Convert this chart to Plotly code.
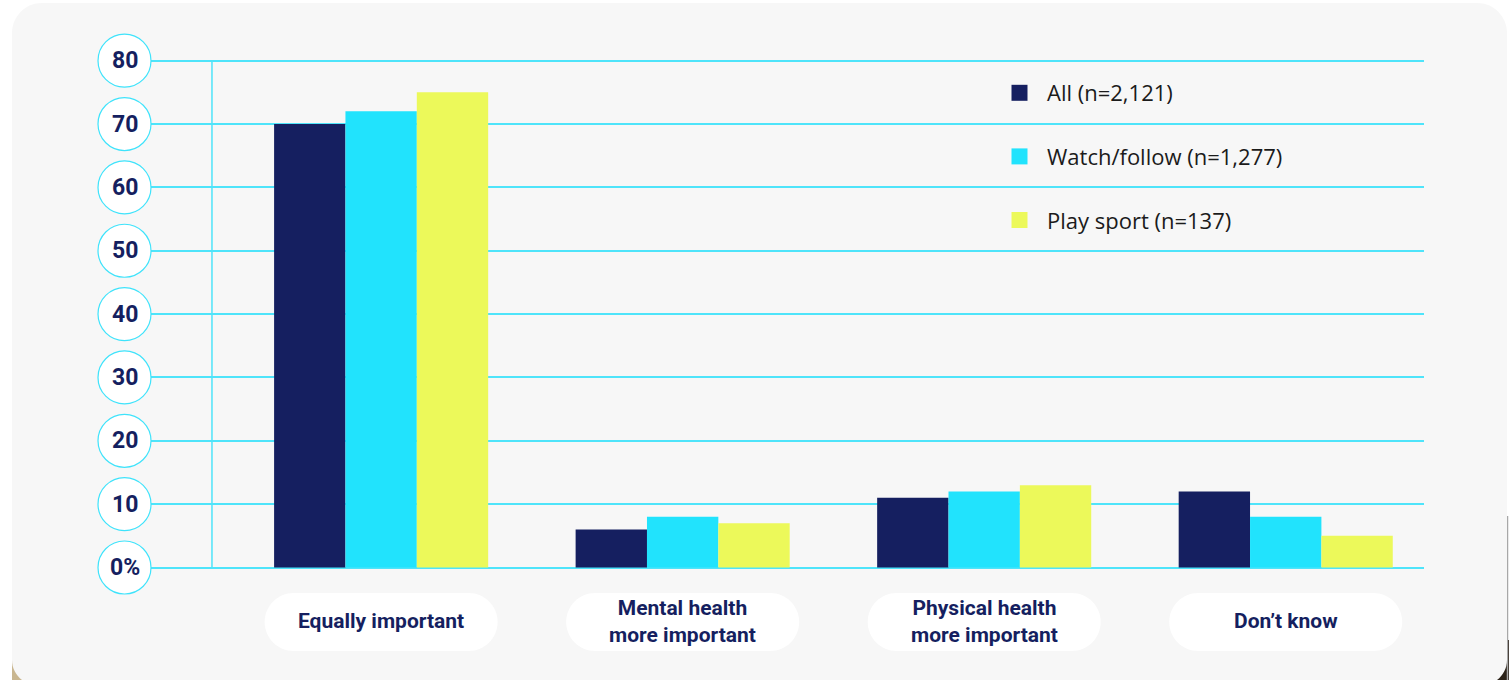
import plotly.graph_objects as go

# Survey responses (% of respondents)
categories = ["Equally important", "Mental health more important",
              "Physical health more important", "Don’t know"]
category_labels = ["Equally important", "Mental health<br>more important",
                   "Physical health<br>more important", "Don’t know"]
series_names = ["All (n=2,121)", "Watch/follow (n=1,277)", "Play sport (n=137)"]
all_values = [70, 6, 11, 12]
watch_values = [72, 8, 12, 8]
play_values = [75, 7, 13, 5]
tick_values = [0, 10, 20, 30, 40, 50, 60, 70, 80]
tick_labels = ["0%", "10", "20", "30", "40", "50", "60", "70", "80"]

NAVY = "#151f60"
CYAN = "#21e3fd"
YELLOW = "#ecf95a"
GRID = "#4fe4fa"
CARD = "#f7f7f7"

W, H = 1509, 680

fig = go.Figure()

for name, vals, col in zip(series_names, [all_values, watch_values, play_values],
                           [NAVY, CYAN, YELLOW]):
    fig.add_trace(go.Bar(x=categories, y=vals, name=name, marker_color=col,
                         marker_line_width=0, showlegend=False, hoverinfo="skip"))

# legend entries with larger square swatches
for i, (name, col) in enumerate(zip(series_names, [NAVY, CYAN, YELLOW])):
    fig.add_trace(go.Scatter(x=[None], y=[None], mode="markers", name=name,
                             legendgroup=f"g{i}",
                             marker=dict(symbol="square", size=16, color=col,
                                         line_width=0)))


def px_x(p):
    return p / W


def px_y(p):
    return (H - p) / H


shapes = []

# backdrop corners and card
shapes.append(dict(type="rect", xref="paper", yref="paper", x0=px_x(12), x1=px_x(45),
                   y0=px_y(680), y1=px_y(640), fillcolor="#c9b690", line_width=0,
                   layer="below"))
shapes.append(dict(type="rect", xref="paper", yref="paper", x0=px_x(1480), x1=px_x(1509),
                   y0=px_y(680), y1=px_y(640), fillcolor="#2b2218", line_width=0,
                   layer="below"))
shapes.append(dict(type="line", xref="paper", yref="paper", x0=px_x(1507.5), x1=px_x(1507.5),
                   y0=px_y(516), y1=px_y(680), line=dict(color="#a8a8a8", width=1.5),
                   layer="below"))


def card_path(x0, y0, x1, y1, rt, rb):
    k = 0.5523
    X0, X1 = px_x(x0), px_x(x1)
    def Y(p):
        return px_y(p)
    def dx(r):
        return r / W
    def dy(r):
        return r / H
    return (f"M {X0+dx(rt)},{Y(y0)} L {X1-dx(rt)},{Y(y0)} "
            f"C {X1-dx(rt)+dx(k*rt)},{Y(y0)} {X1},{Y(y0)-dy(rt)+dy(k*rt)} {X1},{Y(y0)-dy(rt)} "
            f"L {X1},{Y(y1)+dy(rb)} "
            f"C {X1},{Y(y1)+dy(rb)-dy(k*rb)} {X1-dx(rb)+dx(k*rb)},{Y(y1)} {X1-dx(rb)},{Y(y1)} "
            f"L {X0+dx(rb)},{Y(y1)} "
            f"C {X0+dx(rb)-dx(k*rb)},{Y(y1)} {X0},{Y(y1)+dy(rb)-dy(k*rb)} {X0},{Y(y1)+dy(rb)} "
            f"L {X0},{Y(y0)-dy(rt)} "
            f"C {X0},{Y(y0)-dy(rt)+dy(k*rt)} {X0+dx(rt)-dx(k*rt)},{Y(y0)} {X0+dx(rt)},{Y(y0)} Z")


shapes.append(dict(type="path", xref="paper", yref="paper",
                   path=card_path(12, 3, 1507, 685, 30, 25),
                   fillcolor=CARD, line_width=0, layer="below"))

# vertical axis line
shapes.append(dict(type="line", xref="x", yref="y", x0=-0.561, x1=-0.561, y0=0, y1=80,
                   line=dict(color=GRID, width=1.5), layer="below"))

# circular badges behind the value labels
for v in tick_values:
    shapes.append(dict(type="circle", xref="paper", yref="y",
                       xsizemode="pixel", ysizemode="pixel",
                       xanchor=px_x(124.5), yanchor=v,
                       x0=-26.5, x1=26.5, y0=-26.5, y1=26.5,
                       fillcolor="white", line=dict(color="#3fe3fb", width=1.2),
                       layer="above"))


def pill_path(hw, r):
    k = 0.5523
    a = hw - r
    return (f"M {-a},{-r} L {a},{-r} "
            f"C {a+k*r},{-r} {hw},{-k*r} {hw},0 "
            f"C {hw},{k*r} {a+k*r},{r} {a},{r} "
            f"L {-a},{r} "
            f"C {-a-k*r},{r} {-hw},{k*r} {-hw},0 "
            f"C {-hw},{-k*r} {-a-k*r},{-r} {-a},{-r} Z")


for i, _ in enumerate(categories):
    shapes.append(dict(type="path", xref="x", yref="paper",
                       xsizemode="pixel", ysizemode="pixel",
                       xanchor=i, yanchor=px_y(622),
                       path=pill_path(116.5, 29), fillcolor="white", line_width=0,
                       layer="above"))

annotations = []
for v, t in zip(tick_values, tick_labels):
    annotations.append(dict(x=px_x(124.5), y=v, xref="paper", yref="y", text=t,
                            showarrow=False, xanchor="center", yanchor="middle",
                            font=dict(family="Roboto", size=23, color=NAVY, weight="bold")))
for cat, lab in zip(categories, category_labels):
    annotations.append(dict(x=cat, y=px_y(621), xref="x", yref="paper", text=lab,
                            showarrow=False, xanchor="center", yanchor="middle",
                            font=dict(family="Roboto", size=21, color=NAVY, weight="bold")))

fig.update_layout(
    width=W, height=H,
    margin=dict(l=0, r=0, t=0, b=0),
    paper_bgcolor="white",
    plot_bgcolor="rgba(0,0,0,0)",
    barmode="group",
    bargap=0.29,
    bargroupgap=0,
    xaxis=dict(type="category", range=[-0.7642, 3.4586],
               domain=[px_x(150.7), px_x(1424)],
               showgrid=False, showticklabels=False, zeroline=False,
               showline=False, ticks="", fixedrange=True),
    yaxis=dict(range=[-5, 85], domain=[px_y(599.2), px_y(29.0)],
               tickvals=tick_values, showgrid=True, gridcolor=GRID, gridwidth=1.5,
               showticklabels=False, zeroline=False, showline=False, ticks="",
               fixedrange=True),
    legend=dict(x=px_x(992), y=px_y(72), xanchor="left", yanchor="top",
                bgcolor="rgba(0,0,0,0)", borderwidth=0, itemwidth=45,
                tracegroupgap=32, traceorder="grouped",
                font=dict(family="Open Sans", size=22, color="#1b1b1b")),
    shapes=shapes,
    annotations=annotations,
    hovermode=False,
)

fig.write_html("out.html", config={"displayModeBar": False})
